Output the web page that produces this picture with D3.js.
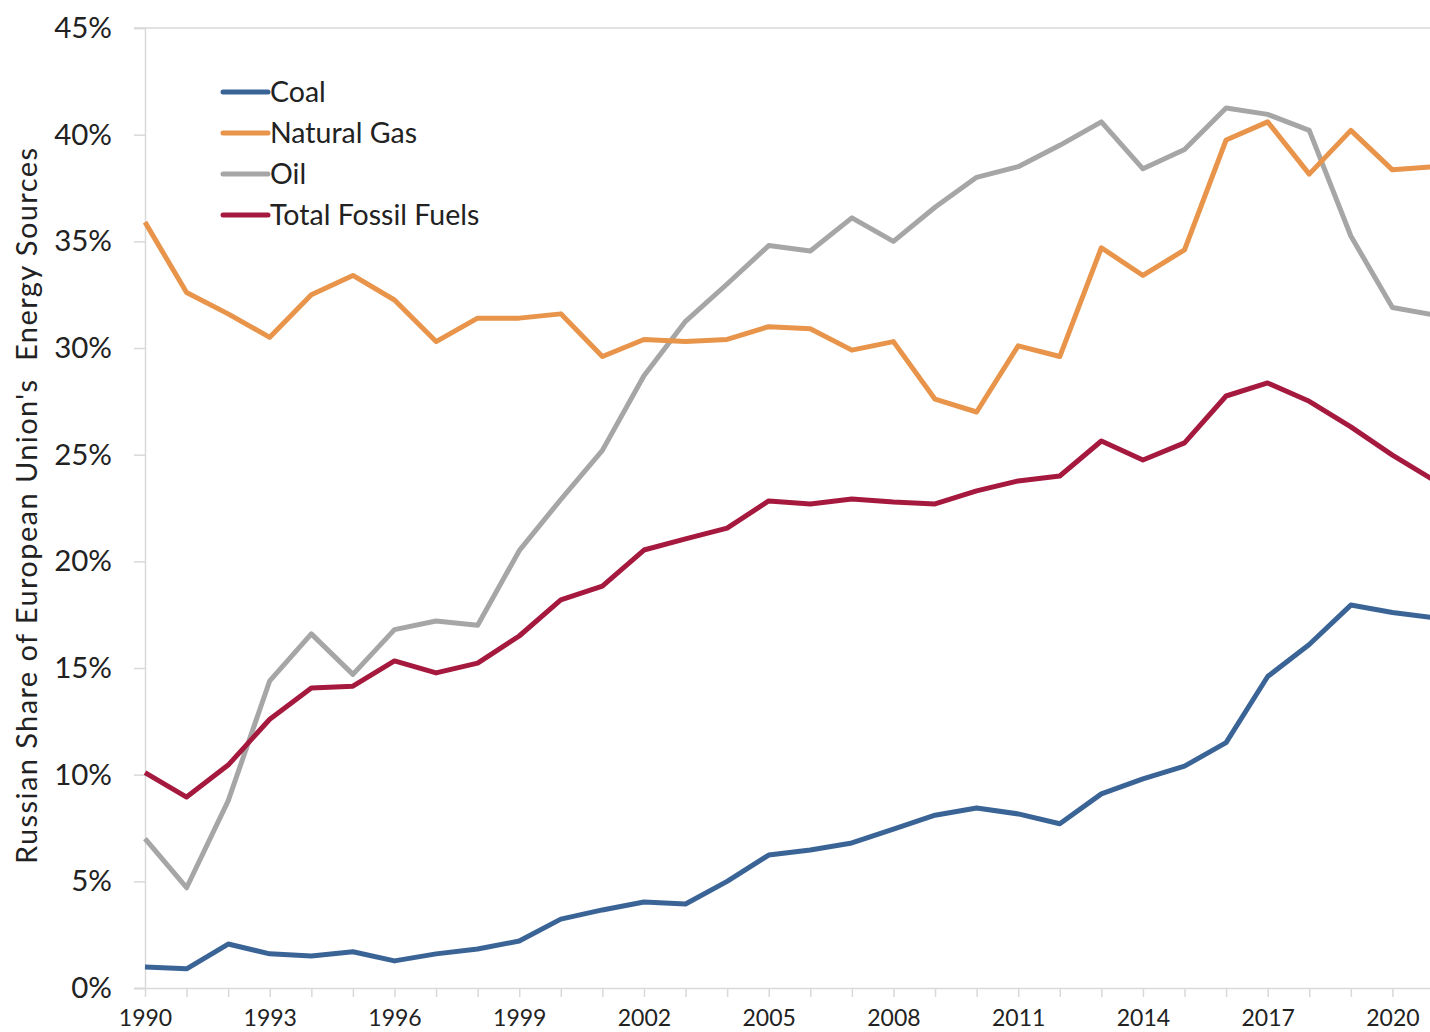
<!DOCTYPE html>
<html><head><meta charset="utf-8">
<script src="https://cdn.jsdelivr.net/npm/d3@7"></script>
<style>body{margin:0;background:#fff}svg{display:block}</style>
</head><body>
<script>
const years = d3.range(1990, 2022);
const coal = [0.98,0.9,2.06,1.6,1.5,1.7,1.27,1.6,1.83,2.2,3.23,3.66,4.03,3.94,5.0,6.23,6.47,6.8,7.45,8.1,8.44,8.16,7.7,9.1,9.8,10.4,11.5,14.6,16.1,17.95,17.6,17.35];
const gas = [35.9,32.6,31.6,30.5,32.5,33.4,32.25,30.3,31.4,31.4,31.6,29.6,30.4,30.3,30.4,31.0,30.9,29.9,30.3,27.6,27.0,30.1,29.6,34.7,33.4,34.6,39.75,40.6,38.15,40.2,38.35,38.5];
const oil = [7.0,4.7,8.77,14.4,16.6,14.7,16.8,17.2,17.0,20.5,22.9,25.2,28.7,31.25,33.0,34.8,34.55,36.1,35.0,36.6,38.0,38.5,39.5,40.6,38.4,39.3,41.25,40.95,40.2,35.25,31.9,31.55];
const total = [10.1,8.95,10.45,12.6,14.06,14.15,15.33,14.77,15.23,16.5,18.19,18.84,20.53,21.05,21.56,22.83,22.69,22.92,22.78,22.69,23.3,23.77,24.0,25.64,24.75,25.55,27.75,28.36,27.5,26.3,24.98,23.8];
const seriesNames = ["Coal","Natural Gas","Oil","Total Fossil Fuels"];
const seriesColors = ["#3b6496","#e8944a","#a6a6a6","#a6193f"];
const yTicks = [0,5,10,15,20,25,30,35,40,45];
const xLabelYears = [1990,1993,1996,1999,2002,2005,2008,2011,2014,2017,2020];

const W = 1430, H = 1032;
const svg = d3.select("body").append("svg").attr("width", W).attr("height", H);
const x = d3.scaleLinear().domain([1990, 2021]).range([145, 1434]);
const y = d3.scaleLinear().domain([0, 45]).range([988, 28]);
const font = "Lato, 'Open Sans', sans-serif";

// top border line at 45%
svg.append("line").attr("x1", 134).attr("x2", W).attr("y1", y(45)).attr("y2", y(45))
  .attr("stroke", "#d9d9d9").attr("stroke-width", 1.5);

// y axis
const yAxis = svg.append("g").attr("transform", "translate(145,0)")
  .call(d3.axisLeft(y).tickValues(yTicks).tickSize(11).tickFormat(d => d + "%"));
yAxis.select(".domain").attr("stroke", "#d9d9d9").attr("stroke-width", 1.5);
yAxis.selectAll(".tick line").attr("stroke", "#d9d9d9").attr("stroke-width", 1.5);
yAxis.selectAll(".tick text").attr("font-family", font).attr("font-size", 29.5).attr("fill", "#222")
  .attr("x", -33);

// x axis
const xAxis = svg.append("g").attr("transform", "translate(0,988)")
  .call(d3.axisBottom(x).tickValues(years).tickSize(9).tickFormat(d => xLabelYears.includes(d) ? String(d) : ""));
xAxis.select(".domain").attr("stroke", "#d9d9d9").attr("stroke-width", 1.5).attr("d", "M134,0.5H" + W);
xAxis.selectAll(".tick line").attr("stroke", "#d9d9d9").attr("stroke-width", 1.5);
xAxis.selectAll(".tick text").attr("font-family", font).attr("font-size", 23).attr("fill", "#222").attr("y", 22);

// y label
svg.append("text").attr("transform", "translate(37,506) rotate(-90)")
  .attr("text-anchor", "middle").attr("font-family", font).attr("font-size", 29).attr("fill", "#222")
  .attr("textLength", 716).attr("lengthAdjust", "spacing")
  .style("white-space", "pre")
  .text("Russian Share of European Union's  Energy Sources");

// lines
const data = [coal, gas, oil, total];
const line = d3.line().x((d, i) => x(years[i])).y(d => y(d));
const order = [2, 1, 3, 0];
order.forEach(k => {
  svg.append("path").datum(data[k]).attr("d", line).attr("fill", "none")
    .attr("stroke", seriesColors[k]).attr("stroke-width", 5).attr("stroke-linejoin", "round");
});

// legend
const lg = svg.append("g");
seriesNames.forEach((n, i) => {
  const yy = 92 + i * 41;
  lg.append("line").attr("x1", 223).attr("x2", 268).attr("y1", yy).attr("y2", yy)
    .attr("stroke", seriesColors[i]).attr("stroke-width", 5).attr("stroke-linecap", "round");
  lg.append("text").attr("x", 270).attr("y", yy + 10).attr("font-family", font).attr("font-size", 28.5)
    .attr("fill", "#222").text(n);
});
</script>
</body></html>
